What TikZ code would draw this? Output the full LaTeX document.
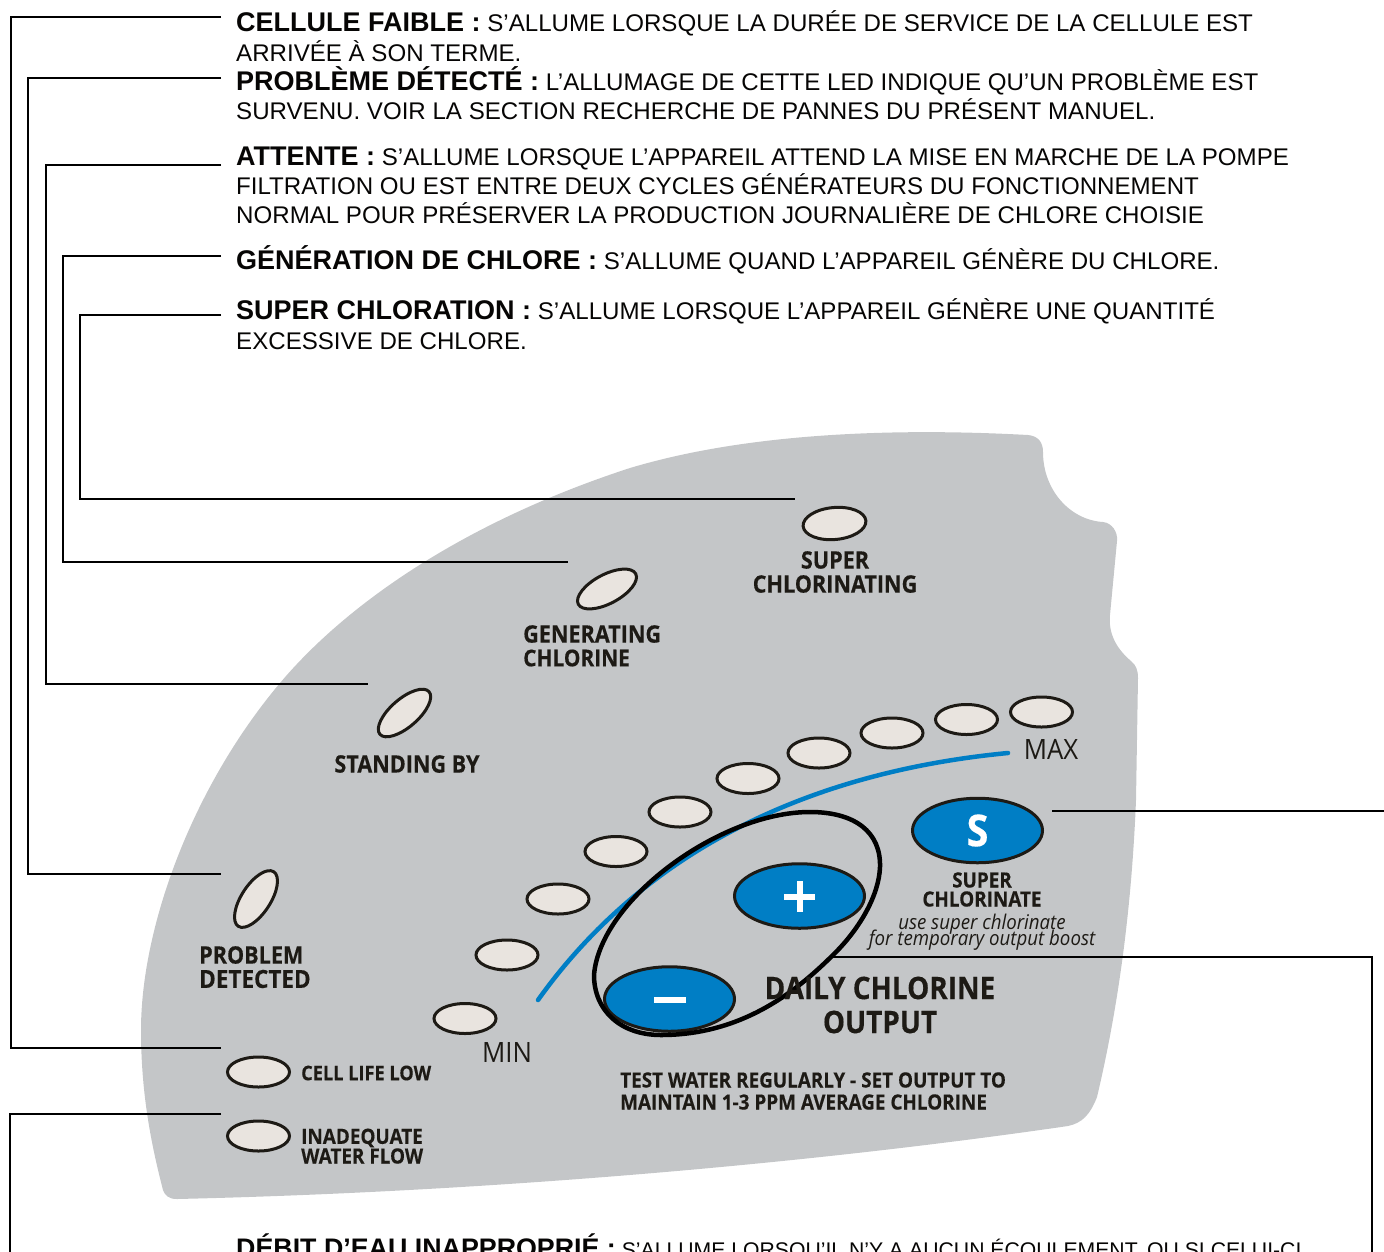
\documentclass[tikz,border=0pt]{standalone}
\usepackage{fontspec}
\setmainfont{Liberation Sans}
\newfontfamily\panelfont[FakeStretch=0.9,BoldFeatures={FakeBold=0.3}]{Open Sans}
\newfontfamily\thinfont[FakeStretch=0.92]{Open Sans}
\definecolor{panelgrey}{HTML}{C4C6C8}
\definecolor{ledfill}{HTML}{E9E4DF}
\definecolor{ink}{HTML}{1D1A15}
\definecolor{btnblue}{HTML}{007EC5}
\newcommand{\fs}[1]{\fontsize{#1}{#1}\selectfont}
\newcommand{\hd}[1]{{\bfseries\fontsize{27}{27}\selectfont #1}}
\usetikzlibrary{shapes.geometric}
\tikzset{
  x=1pt,y=-1pt,
  led/.style={ellipse,draw=ink,line width=3pt,fill=ledfill,inner sep=0pt,minimum width=62pt,minimum height=30pt},
  tiltled/.style={led,minimum width=65pt,minimum height=29pt},
  btn/.style={ellipse,draw=ink,line width=3pt,fill=btnblue,inner sep=0pt,minimum width=130pt,minimum height=64.5pt,text=white},
  desc/.style={anchor=base west,inner sep=0pt,text=ink!20!black,font=\fs{24.1}},
  lab/.style={inner sep=0pt,text=ink,font={\panelfont\bfseries\fs{24}}},
  small/.style={lab,font={\panelfont\bfseries\fs{21}}},
  note/.style={lab,font={\thinfont\itshape\fs{20.3}}},
  leader/.style={draw=black,line width=2.7pt},
}
\begin{document}
\begin{tikzpicture}
\useasboundingbox (0,0) rectangle (1384,1251);
\clip (0,0) rectangle (1384,1251);
% panel
\fill[panelgrey] (1028,435) .. controls (1038,436) and (1043,442) .. (1043,452)
  .. controls (1043,490) and (1070,520) .. (1103,522)
  .. controls (1112,523) and (1118,532) .. (1117,541)
  -- (1110,615)
  .. controls (1108,635) and (1118,650) .. (1131,661)
  .. controls (1136,665) and (1138,670) .. (1138,678)
  -- (1136,800)
  .. controls (1132,900) and (1120,1000) .. (1097,1097)
  .. controls (1090,1115) and (1082,1123) .. (1068,1126)
  .. controls (800,1165) and (480,1192) .. (177,1199)
  .. controls (168,1199) and (165,1195) .. (163,1190)
  .. controls (150,1140) and (141,1090) .. (141,1030)
  .. controls (141,930) and (190,790) .. (280,683)
  .. controls (350,600) and (470,520) .. (630,468)
  .. controls (750,432) and (900,428) .. (1028,435) -- cycle;
% blue curve
\draw[btnblue,line width=4.5pt,line cap=round] (538,1000) .. controls (645,850) and (810,772) .. (1008,753);
% LEDs
\node[led,rotate=5,minimum width=63pt,minimum height=32pt] (ledsuper) at (834.5,523.5) {};
\node[tiltled,rotate=28] (ledgen) at (607,589) {};
\node[tiltled,rotate=41,minimum height=28pt] (ledstand) at (404.5,713) {};
\node[tiltled,rotate=57,minimum height=29pt] (ledprob) at (256,899) {};
\node[led] (ledcell) at (258.5,1072) {};
\node[led] (ledflow) at (258.5,1136) {};
\node[led] (b1) at (465,1018.5) {};
\node[led] (b2) at (507,955) {};
\node[led] (b3) at (558,899) {};
\node[led] (b4) at (616,851.5) {};
\node[led] (b5) at (680,812) {};
\node[led] (b6) at (748,778.5) {};
\node[led] (b7) at (819,753) {};
\node[led] (b8) at (892,733) {};
\node[led] (b9) at (966.5,719.5) {};
\node[led] (b10) at (1041.5,712) {};
% buttons
\node[btn] (btns) at (977.5,830.5) {\panelfont\bfseries\fs{44}S};
\node[btn] (btnplus) at (799.5,896) {};
\node[btn] (btnminus) at (669.5,999) {};
\fill[white] (784,893.5) rectangle (815,899.5);
\fill[white] (796.5,881) rectangle (802.5,912);
\fill[white] (654,997) rectangle (686,1003);
\draw[black,line width=4.5pt] (810,812)
  .. controls (855,812) and (881,832) .. (880,867)
  .. controls (879,895) and (860,928) .. (835,953)
  .. controls (800,988) and (745,1035) .. (661,1035)
  .. controls (620,1035) and (594,1010) .. (594,975)
  .. controls (600,900) and (720,812) .. (810,812) -- cycle;
% panel labels
\node[lab] at (835,560) {SUPER};
\node[lab] at (835,584) {CHLORINATING};
\node[lab,anchor=west] at (523,634) {GENERATING};
\node[lab,anchor=west,font={\panelfont\bfseries\fs{23.2}}] at (523,658) {CHLORINE};
\node[lab] at (407,764) {STANDING BY};
\node[lab,anchor=west] at (199,955) {PROBLEM};
\node[lab,anchor=west,font={\panelfont\bfseries\fs{25}}] at (199,979) {DETECTED};
\node[small,anchor=west,font={\panelfont\bfseries\fs{20.2}}] at (301,1073) {CELL LIFE LOW};
\node[small,anchor=west] at (301,1138) {INADEQUATE};
\node[small,anchor=west] at (301,1156) {WATER FLOW};
\node[lab,font={\thinfont\fs{28}}] at (507,1052) {MIN};
\node[lab,font={\thinfont\fs{28}}] at (1051,749) {MAX};
\node[small] at (982,880) {SUPER};
\node[small] at (982,899) {CHLORINATE};
\node[note] at (982,924) {use super chlorinate};
\node[note] at (982,940) {for temporary output boost};
\node[lab,font={\panelfont\bfseries\fs{31}}] at (880,988) {DAILY CHLORINE};
\node[lab,font={\panelfont\bfseries\fs{31}}] at (880,1022) {OUTPUT};
\node[small,anchor=west] at (620,1080) {TEST WATER REGULARLY - SET OUTPUT TO};
\node[small,anchor=west] at (620,1102) {MAINTAIN 1-3 PPM AVERAGE CHLORINE};
% descriptions
\node[desc] (d1a) at (236,31) {\hd{CELLULE FAIBLE :} S’ALLUME LORSQUE LA DURÉE DE SERVICE DE LA CELLULE EST};
\node[desc] (d1b) at (236,61) {ARRIVÉE À SON TERME.};
\node[desc] (d2a) at (236,90) {\hd{PROBLÈME DÉTECTÉ :} L’ALLUMAGE DE CETTE LED INDIQUE QU’UN PROBLÈME EST};
\node[desc] (d2b) at (236,119) {SURVENU. VOIR LA SECTION RECHERCHE DE PANNES DU PRÉSENT MANUEL.};
\node[desc] (d3a) at (236,165) {\hd{ATTENTE :} S’ALLUME LORSQUE L’APPAREIL ATTEND LA MISE EN MARCHE DE LA POMPE};
\node[desc] (d3b) at (236,194) {FILTRATION OU EST ENTRE DEUX CYCLES GÉNÉRATEURS DU FONCTIONNEMENT};
\node[desc] (d3c) at (236,223) {NORMAL POUR PRÉSERVER LA PRODUCTION JOURNALIÈRE DE CHLORE CHOISIE};
\node[desc] (d4a) at (236,269) {\hd{GÉNÉRATION DE CHLORE :} S’ALLUME QUAND L’APPAREIL GÉNÈRE DU CHLORE.};
\node[desc] (d5a) at (236,319) {\hd{SUPER CHLORATION :} S’ALLUME LORSQUE L’APPAREIL GÉNÈRE UNE QUANTITÉ};
\node[desc] (d5b) at (236,349) {EXCESSIVE DE CHLORE.};
\node[desc,font=\fs{21.2}] (d6a) at (236,1257) {{\bfseries\fs{26.8}DÉBIT D’EAU INAPPROPRIÉ :} S’ALLUME LORSQU’IL N’Y A AUCUN ÉCOULEMENT, OU SI CELUI-CI};
% connector ends
\coordinate (c1a) at (221,17);  \coordinate (c1b) at (221,1048);
\coordinate (c2a) at (221,78);  \coordinate (c2b) at (221,874);
\coordinate (c3a) at (221,165); \coordinate (c3b) at (368,684);
\coordinate (c4a) at (221,256); \coordinate (c4b) at (568,562);
\coordinate (c5a) at (221,315); \coordinate (c5b) at (795,499);
\coordinate (c6a) at (221,1114); \coordinate (c6b) at (10,1260);
\coordinate (c7a) at (1052,811); \coordinate (c7b) at (1390,811);
\coordinate (c8a) at (832,957); \coordinate (c8b) at (1372,1260);
\draw[leader] (c1a) -- (11,17) |- (c1b);
\draw[leader] (c2a) -- (28,78) |- (c2b);
\draw[leader] (c3a) -- (46,165) |- (c3b);
\draw[leader] (c4a) -- (63,256) |- (c4b);
\draw[leader] (c5a) -- (80,315) |- (c5b);
\draw[leader] (c6a) -- (10,1114) -- (c6b);
\draw[leader] (c7a) -- (c7b);
\draw[leader] (c8a) -| (c8b);
\end{tikzpicture}
\end{document}
